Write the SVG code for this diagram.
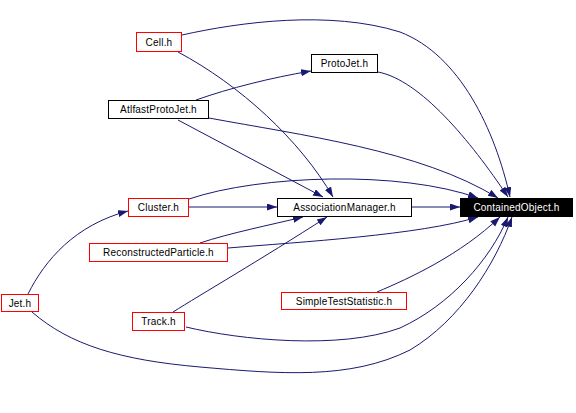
<svg xmlns="http://www.w3.org/2000/svg" width="576" height="413" viewBox="0 0 576 413">
<style>
.e{fill:none;stroke:#191970;stroke-width:1;marker-end:url(#ah)}
.r{fill:#fff;stroke:#ff0000;stroke-width:1}
.b{fill:#fff;stroke:#000;stroke-width:1}
.k{fill:#000;stroke:#000;stroke-width:1}
text{font-family:"Liberation Sans",Arial,sans-serif;font-size:10px;letter-spacing:0.2px;text-anchor:middle;fill:#000}
.w{fill:#fff}
</style>
<defs>
<marker id="ah" markerUnits="userSpaceOnUse" markerWidth="11" markerHeight="8" refX="10" refY="3.5" orient="auto">
<path d="M0,0 L10,3.5 L0,7 z" fill="#191970"/>
</marker>
</defs>
<rect width="576" height="413" fill="#fff"/>
<g id="edges">
<path class="e" d="M182,35 C240,22 330,10 400,32 C460,55 495,130 510,197"/>
<path class="e" d="M178,52 C240,85 300,140 333,197"/>
<path class="e" d="M196,100 C230,88 270,78 311,71"/>
<path class="e" d="M178,120 L323,197"/>
<path class="e" d="M209,118 C300,135 420,150 498,198"/>
<path class="e" d="M378,72 C420,80 470,140 508,197"/>
<path class="e" d="M189,207 L277,207"/>
<path class="e" d="M189,199 C260,175 400,170 478,198"/>
<path class="e" d="M412,207 L460,207"/>
<path class="e" d="M200,243 C230,233 270,225 303,217"/>
<path class="e" d="M228,248 C300,242 420,235 478,217"/>
<path class="e" d="M28,294 C45,260 75,225 128,211"/>
<path class="e" d="M32,312 C70,345 120,360 200,367 C280,374 350,380 410,350 C460,320 495,265 512,217"/>
<path class="e" d="M173,312 C200,295 260,260 327,217"/>
<path class="e" d="M186,327 C240,340 340,350 400,328 C450,305 490,260 508,217"/>
<path class="e" d="M377,292 C410,278 460,255 500,217"/>
</g>
<g id="cell"><rect class="r" x="136.5" y="32.5" width="45" height="19"/><text x="159" y="45.5">Cell.h</text></g>
<g id="protojet"><rect class="b" x="311.5" y="54.5" width="66" height="18"/><text x="344.5" y="67">ProtoJet.h</text></g>
<g id="atlfastprotojet"><rect class="b" x="108.5" y="100.5" width="100" height="18"/><text x="158.5" y="113">AtlfastProtoJet.h</text></g>
<g id="cluster"><rect class="r" x="128.5" y="198.5" width="60" height="18"/><text x="158.5" y="211">Cluster.h</text></g>
<g id="associationmanager"><rect class="b" x="277.5" y="198.5" width="134" height="18"/><text x="344.5" y="211">AssociationManager.h</text></g>
<g id="containedobject"><rect class="k" x="460.5" y="198.5" width="112" height="18"/><text class="w" x="516.5" y="211">ContainedObject.h</text></g>
<g id="reconstructedparticle"><rect class="r" x="89.5" y="243.5" width="138" height="18"/><text x="158.5" y="256">ReconstructedParticle.h</text></g>
<g id="simpleteststatistic"><rect class="r" x="281.5" y="292.5" width="125" height="17"/><text x="344" y="305">SimpleTestStatistic.h</text></g>
<g id="jet"><rect class="r" x="1.5" y="294.5" width="37" height="17"/><text x="20" y="307">Jet.h</text></g>
<g id="track"><rect class="r" x="132.5" y="312.5" width="52" height="18"/><text x="158.5" y="325">Track.h</text></g>
</svg>
